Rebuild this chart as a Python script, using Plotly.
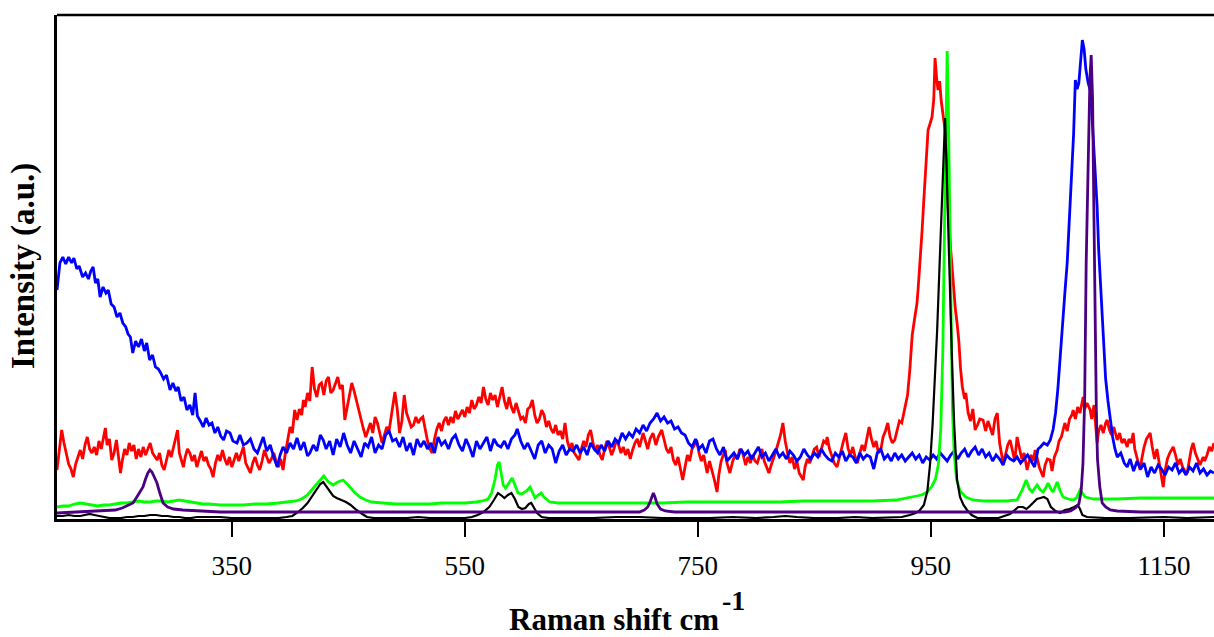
import plotly.graph_objects as go

# ---------------- data (Raman shift in cm^-1, intensity in a.u.) ----------------
tick_vals = [350, 550, 750, 950, 1150]
tick_text = ["350", "550", "750", "950", "1150"]

red_pts = [(200,49),(202,70),(204,89),(206,76),(208,64),(210,55),(212,50),(214,42),(216,55),(218,62),(220,69),(222,60),(224,74),(226,82),(228,70),(230,66),(232,72),(234,64),(236,78),(238,70),(240,84),(241.5,91),(243,74),(245,80),(247,59),(249,66),(251,79),(253,62),(254.5,46),(256,58),(258,70),(260,64),(262,76),(264,68),(266,74),(268,60),(270,70),(272,62),(274,72),(276,64),(278,70),(280,76),(282,66),(284,62),(286,59),(288,66),(290,54),(292,49),(294,58),(296,69),(298,62),(300,72),(302,80),(303.5,89),(305,66),(307,58),(308.5,52),(310,62),(312,70),(314,66),(316,58),(318,64),(320,52),(322,60),(324,68),(326,58),(328,62),(330,54),(332,50),(334,42),(336,56),(338,64),(340,58),(342,69),(344,60),(346,54),(348,62),(350,52),(352,60),(354,66),(356,58),(358,64),(360,72),(362,56),(364,50),(366,46),(368,56),(370,62),(372,54),(374,49),(376,58),(378,69),(380,62),(382,56),(384,60),(386,66),(388,58),(390,52),(392,60),(394,49),(396,66),(398,80),(400,92),(402,86),(404,109),(406,99),(408,110),(410,104),(411.5,119),(413,112),(415,126),(417,118),(419,152),(421,130),(423,122),(425,134),(427,136),(429,124),(431,138),(433,142),(435,126),(437,129),(439,136),(441,142),(443,130),(445,134),(447,99),(449,112),(451,124),(453,136),(455,128),(457,118),(459,109),(461,100),(463,90),(465,82),(467,90),(469,96),(471,86),(473,102),(475,96),(477,86),(479,76),(481,84),(483,92),(485,88),(487,104),(489,118),(490,127),(492,110),(494,86),(496,98),(498,124),(500,106),(502,98),(504,92),(506,94),(508,102),(510,96),(512,100),(514,102),(516,88),(518,78),(520,70),(522,66),(524,80),(526,90),(528,96),(530,88),(532,98),(534,102),(536,94),(538,102),(540,96),(542,108),(544,100),(546,104),(548,109),(550,102),(552,112),(554,106),(556,119),(558,110),(560,114),(562,122),(564,116),(566,132),(568,120),(570,114),(572,126),(574,119),(576,124),(578,112),(580,122),(582,132),(584,118),(586,110),(588,122),(590,112),(592,106),(594,116),(596,108),(598,100),(600,102),(602,96),(604,110),(606,112),(608,119),(610,104),(612,96),(614,100),(616,109),(618,104),(620,92),(622,98),(624,90),(626,86),(628,94),(630,84),(632,88),(634,80),(636,96),(638,78),(640,70),(642,76),(644,66),(646,62),(648,59),(650,70),(652,78),(654,72),(656,84),(658,89),(660,76),(662,68),(664,74),(666,64),(668,59),(670,70),(672,78),(674,72),(676,64),(678,70),(680,79),(682,74),(684,66),(686,72),(688,64),(690,70),(692,60),(694,69),(696,76),(698,80),(700,72),(703,86),(705,78),(707,70),(709,80),(711.5,86),(714,74),(716,82),(719,89),(721,78),(723,70),(725,66),(727,72),(729,59),(731,54),(733,62),(735,50),(737,39),(739,52),(741,64),(743,58),(745,70),(747,74),(749,79),(751,66),(753,58),(755,64),(757,52),(758,46),(760,58),(762,50),(764,40),(766.5,27),(768,44),(770,58),(772,64),(773.5,69),(775,56),(777.5,46),(780,58),(782,64),(784,60),(786,70),(788.5,66),(791,54),(793,62),(795,56),(797,64),(799,58),(801,56),(803,64),(805,70),(807,58),(809,52),(811,46),(813,54),(815,60),(817,68),(819,76),(821,84),(823,96),(825,78),(827,66),(829,56),(831,62),(833,50),(835,58),(837,46),(839,42),(840.5,39),(842,52),(844,60),(846,56),(848,64),(850,70),(852,72),(854,62),(856,70),(858,78),(860,76),(861,82),(863,70),(865,62),(867,56),(869.5,52),(871,60),(873,68),(875,78),(877,86),(879,70),(881,64),(883,72),(885,62),(887,56),(889,66),(891,74),(893,68),(895,80),(897,92),(899,80),(901,72),(903,78),(905,66),(907,69),(909,82),(911,88),(913,96),(915,82),(917,76),(919,79),(921,90),(923,98),(925,96),(926,102),(928,112),(930,124),(932,150),(934,184),(936,200),(938,215),(939,229),(941,258),(942.5,289),(944,320),(945,339),(946.5,362),(947.6,389),(949.5,396),(951,402),(952.5,420),(953.6,461),(955,440),(956.2,429),(957.5,438),(958.8,419),(960.5,404),(962.2,389),(963.5,360),(964.8,312),(967,270),(969,239),(971,210),(972.5,196),(974,178),(975.5,150),(977,132),(979,120),(980,126),(982,106),(984,98),(986,110),(988,89),(990,94),(992,100),(994.8,99),(997,88),(999,98),(1001,92),(1003,84),(1005,100),(1007,106),(1009,76),(1011,60),(1012,56),(1014,64),(1016,74),(1018,79),(1020,68),(1022,58),(1024,82),(1026,72),(1028,60),(1030,66),(1032.6,49),(1034,56),(1036,64),(1038,58),(1039.5,69),(1041,62),(1043,52),(1045,46),(1046.4,42),(1048,54),(1050,60),(1052.4,59),(1054,48),(1056,62),(1058.4,69),(1060,78),(1062,82),(1063.5,89),(1065,96),(1067,88),(1069,100),(1071,104),(1072.1,109),(1074,100),(1076,112),(1078,106),(1080.7,122),(1082,110),(1084,116),(1086.7,109),(1088,100),(1090,114),(1091,96),(1092.7,76),(1094,88),(1096,94),(1098,86),(1100,96),(1101.3,99),(1103,90),(1105,84),(1107,92),(1109.9,79),(1112,86),(1114,76),(1116,80),(1118.5,72),(1120,80),(1122,76),(1123.6,86),(1125,70),(1127,62),(1129.6,49),(1131,60),(1133,72),(1135,80),(1138.2,86),(1140,72),(1142,60),(1144,70),(1146,56),(1148,44),(1149.4,32),(1151,48),(1153,60),(1155,66),(1158,72),(1160,64),(1162,54),(1164,60),(1166,52),(1168,48),(1170,46),(1172,60),(1173.5,70),(1175.1,76),(1177,66),(1179,60),(1181,54),(1183.7,62),(1185,58),(1187,64),(1189,72),(1191,68),(1193,76)]

blue_pts = [(200,229),(202.5,256),(205,262),(207.5,255),(210,262),(212.5,256),(214.5,261),(217,250),(219,253),(222,242),(224.5,246),(227,240),(229,248),(231,252),(233,236),(235,240),(237,222),(239.5,232),(242,226),(244,229),(246.5,215),(249,212),(251.5,202),(254,206),(256.5,196),(259,192),(261,185),(263,182),(265,166),(267.5,178),(270,172),(272.5,180),(275,168),(277,176),(279.5,159),(282,164),(284.5,152),(287,150),(289,146),(291.5,140),(294,144),(297,129),(299.5,136),(302,128),(304,132),(306.5,118),(309,122),(311.5,109),(314,114),(316.5,104),(318.5,126),(320.5,103),(323,98),(325.5,92),(328,101),(330.5,94),(333,96),(335.5,86),(338,92),(340.5,83),(343,79),(345.5,88),(348.5,86),(351,78),(354.5,76),(357,84),(360,74),(363,76),(366,80),(369,70),(372,66),(374.5,75),(377,82),(380,68),(383,74),(386,62),(389,52),(391.5,64),(394,72),(397,66),(400,76),(403,70),(406,81),(409,69),(412,77),(415,63),(417,66),(420,74),(423,68),(426,84),(428.5,79),(431,70),(434,78),(437,64),(440,80),(443,72),(446,86),(449,74),(452,66),(455,78),(458,70),(461,62),(464,76),(467,72),(470,82),(473,66),(476,74),(479,70),(482,84),(485,88),(488,78),(491,80),(494,72),(497,82),(500,68),(503,76),(506,64),(509,80),(512,72),(515,78),(518,70),(521,76),(524,66),(527,82),(530,74),(533,78),(536,70),(539,80),(542,84),(545,74),(548,68),(551,80),(554,72),(557,62),(560,78),(563,70),(566,76),(569,82),(572,68),(575,80),(578,74),(581,72),(584,78),(587,70),(590,80),(593,84),(595,90),(598,78),(601,70),(604,76),(607,68),(610,60),(613,74),(616,78),(619,66),(622,74),(625,70),(628,56),(631,68),(634,74),(637,64),(640,70),(643,68),(646,74),(649,66),(652,72),(655,64),(658,76),(661,70),(664,66),(667,74),(670,68),(673,78),(676,72),(679,80),(682,76),(685,86),(688,80),(691,86),(694,82),(697,90),(700,86),(703,94),(706,88),(709,96),(712,100),(715,106),(718,98),(721,102),(724,96),(727,98),(730,90),(733,92),(736,86),(739,84),(742,76),(745,72),(748,80),(751,70),(754,74),(757,66),(760,78),(763,80),(766,70),(769,64),(772,72),(775,58),(778,62),(781,66),(784,60),(787,70),(790,64),(793,68),(796,60),(799,66),(802,72),(805,62),(808,66),(811,58),(814,64),(817,70),(820,62),(823,66),(826,60),(829,68),(832,64),(835,58),(838,62),(841,70),(844,64),(847,60),(850,66),(853,62),(856,70),(859,64),(862,60),(865,58),(868,66),(871,62),(874,68),(877,58),(880,64),(883,62),(886,56),(889,66),(892,60),(895,64),(898,62),(901,50),(904,66),(907,70),(910,60),(913,64),(916,58),(919,66),(922,60),(925,64),(928,58),(931,62),(934,66),(937,60),(940,64),(943,56),(946,62),(949,59),(952,64),(955,60),(958,66),(961,62),(964,58),(967,64),(970,68),(973,60),(976,66),(979,70),(982,62),(985,68),(988,72),(991,64),(994,70),(997,62),(1000,66),(1003,58),(1006,64),(1009,60),(1012,54),(1015,64),(1018,60),(1021,58),(1024,62),(1027,56),(1030,60),(1033,64),(1036,58),(1039,52),(1042,70),(1044,72),(1047,76),(1050,74),(1052.5,79),(1055,90),(1057,106),(1059,130),(1061,162),(1063,198),(1065,226),(1067,256),(1069,300),(1071,349),(1072.5,385),(1074,439),(1075.5,430),(1077,436),(1078.5,462),(1080,479),(1081.5,470),(1083,450),(1085,436),(1087,428),(1089,389),(1091,350),(1092.7,312),(1094,270),(1095.5,239),(1097,200),(1098,179),(1100,140),(1102,118),(1104,99),(1106,82),(1108,70),(1110,62),(1113,66),(1116,56),(1118.5,52),(1121,60),(1124,48),(1127,58),(1130,50),(1133,56),(1136,42),(1139,52),(1142,46),(1145,54),(1148,50),(1151,44),(1154,52),(1157,49),(1160,56),(1163,46),(1166,50),(1169,44),(1172,52),(1175,48),(1178,56),(1181,46),(1184,50),(1187,44),(1190,48),(1193,46)]

green_pts = [(200,12),(205,13),(210,13),(215,15),(220,16),(225,15),(230,14),(235,13),(240,14),(245,14),(250,15),(255,16),(260,16),(265,17),(270,18),(275,17),(280,17),(285,18),(290,18),(295,17),(300,18),(305,19),(310,18),(315,17),(320,16),(325,15),(330,15),(340,14),(350,14),(360,14),(370,15),(380,15),(390,16),(400,17),(405,18),(410,20),(415,24),(420,31),(425,38),(429,43),(433,37),(437,34),(441,37),(445.5,39),(450,34),(455,27),(460,22),(465,19),(470,17),(480,16),(490,15),(500,15),(510,15),(520,15),(530,16),(540,16),(550,16),(560,17),(565,18),(570,20),(573,26),(576,40),(578,54),(579.5,57),(581,48),(583,34),(585,31),(588,36),(590.6,41),(593,34),(595.7,26),(599,25),(603,28),(606,32),(608,27),(610.3,21),(613,24),(615.5,26),(618,22),(623,17),(630,16),(640,16),(660,16),(680,16),(700,16),(720,16),(740,17),(760,17),(780,17),(800,17),(820,17),(840,18),(860,18),(880,18),(900,18),(920,19),(935,22),(942,24),(947,27),(951,33),(954,40),(956.5,55),(958.5,90),(960.3,170),(961.8,300),(963,420),(964,468),(965,410),(966.1,320),(967.3,200),(968.5,110),(970,65),(972,40),(975,28),(980,22),(986,19),(995,18),(1005,18),(1015,18),(1024,19),(1028,28),(1031.8,39),(1034.5,30),(1036.9,27),(1039,30),(1041.2,34),(1044,29),(1046.4,27),(1048.5,31),(1050.6,36),(1053,30),(1054.9,27),(1057,33),(1058.4,37),(1061,28),(1063.5,22),(1068,20),(1072,19),(1075,21),(1078,29),(1080,26),(1082.4,22),(1086,21),(1090,20),(1095,20),(1100,20),(1110,20),(1130,21),(1150,21),(1170,21),(1193,21)]

black_pts = [(200,3),(205,3),(210,4),(215,3),(220,3),(224,4),(228,5),(232,4),(236,3),(240,2),(245,1),(250,1),(255,1),(260,2),(265,2),(270,3),(275,3),(280,4),(285,4),(290,3),(295,3),(300,2),(305,2),(310,1),(315,1),(320,2),(325,2),(330,2),(340,2),(350,1),(360,1),(370,1),(380,1),(390,1),(397,2),(402,3),(407,7),(411,11),(415,16),(419,23),(423,30),(426,35),(428.5,37),(431,33),(434,28),(437,23),(440,21),(444,19),(448,17),(452,14),(457,9),(462,5),(466,2),(472,1),(480,1),(490,1),(500,1),(510,2),(520,1),(530,1),(540,1),(550,1),(556,2),(561,4),(566,7),(571,12),(575,19),(578.5,26),(581,24),(584,21),(587,24),(590,26),(593,20),(596,12),(599,10),(602,11),(605,15),(607,16),(609,12),(612,6),(616,2),(622,1),(640,1),(660,1),(680,2),(700,2),(720,1),(740,1),(760,1),(780,2),(800,1),(815,2),(825,3),(835,2),(850,1),(870,1),(885,2),(900,1),(915,2),(925,2),(932,4),(937,6),(940,8),(944,14),(947,28),(949.4,56),(951.5,95),(953.5,140),(955.4,189),(957.5,255),(959.7,322),(961,370),(962.2,401),(963.5,350),(964.8,289),(966.5,220),(968.2,156),(970,95),(971.5,58),(972.5,39),(975,22),(978,14),(981,9),(985,4),(990,1),(1000,1),(1008,1),(1013,3),(1018,5),(1022,9),(1025,12),(1029,12),(1032,10),(1035,13),(1038,17),(1041,20),(1044,21),(1047,22),(1050,20),(1053,12),(1057,8),(1061,6),(1065,9),(1069,10),(1073,12),(1076,14),(1078,10),(1080,4),(1084,2),(1100,1),(1120,1),(1150,2),(1170,1),(1193,2)]

purple_pts = [(200,6),(220,7),(240,8),(250,9),(256,11),(261,14),(265.2,16),(268,21),(271,27),(273.8,32),(276,40),(278,46),(279.8,49),(281.5,47),(283.5,42),(285.8,36),(288,27),(291,16),(295,12),(300,10),(308,9),(320,8),(340,7),(400,7),(500,7),(600,7),(680,7),(700,7),(704,9),(707,12),(709,17),(710.5,23),(711.8,26),(713.2,22),(715,15),(718,10),(722,8),(730,7),(800,7),(900,7),(1000,7),(1050,7),(1065,7),(1070,8),(1074,11),(1077,15),(1079,28),(1080.5,55),(1082,120),(1083.3,256),(1085,370),(1086.5,440),(1087.6,464),(1088.8,420),(1090,300),(1091,189),(1092,110),(1093,60),(1095,32),(1097,16),(1100,12),(1104,9),(1110,8),(1130,7),(1193,7)]

series = [
    ("red", red_pts, "#FF0000", 2.8),
    ("blue", blue_pts, "#0000FF", 2.8),
    ("green", green_pts, "#00FF00", 2.8),
    ("black", black_pts, "#000000", 2.2),
    ("purple", purple_pts, "#4B0082", 2.8),
]

fig = go.Figure()
for name, pts, color, w in series:
    fig.add_trace(go.Scatter(
        x=[p[0] for p in pts], y=[p[1] for p in pts], mode="lines", name=name,
        line=dict(color=color, width=w), showlegend=False, hoverinfo="skip"))

SERIF = "Liberation Serif, Times New Roman, serif"

fig.update_layout(
    width=1214, height=637,
    margin=dict(l=57, r=0, t=15, b=118),
    paper_bgcolor="white", plot_bgcolor="white",
    xaxis=dict(range=[200, 1193], tickvals=tick_vals, ticktext=tick_text,
               ticks="outside", ticklen=15, tickwidth=2, tickcolor="black",
               ticklabelstandoff=6,
               showline=True, linewidth=2.5, linecolor="black", mirror=False,
               showgrid=False, zeroline=False,
               tickfont=dict(family=SERIF, size=27, color="black")),
    yaxis=dict(range=[0, 504], showticklabels=False, ticks="",
               showline=True, linewidth=2.5, linecolor="black", mirror=False,
               showgrid=False, zeroline=False),
    shapes=[dict(type="line", xref="paper", yref="paper", x0=0, x1=1, y0=1, y1=1,
                 line=dict(color="black", width=2.5))],
    annotations=[
        dict(text="<b>Intensity (a.u.)</b>", xref="paper", yref="paper",
             x=0, y=(519 - 266) / 504, xanchor="center", yanchor="middle", xshift=-34,
             textangle=-90, showarrow=False,
             font=dict(family=SERIF, size=33, color="black")),
        dict(text="<b>Raman shift cm</b>", xref="paper", yref="paper",
             x=(614 - 57) / 1157, y=(519 - 619) / 504, xanchor="center", yanchor="middle",
             showarrow=False, font=dict(family=SERIF, size=31, color="black")),
        dict(text="<b>-1</b>", xref="paper", yref="paper",
             x=(733 - 57) / 1157, y=(519 - 600) / 504, xanchor="center", yanchor="middle",
             showarrow=False, font=dict(family=SERIF, size=28, color="black")),
    ],
)

fig.write_html("out.html", config={"displayModeBar": False},
               post_script="document.body.style.margin='0';document.body.style.overflow='hidden';")
